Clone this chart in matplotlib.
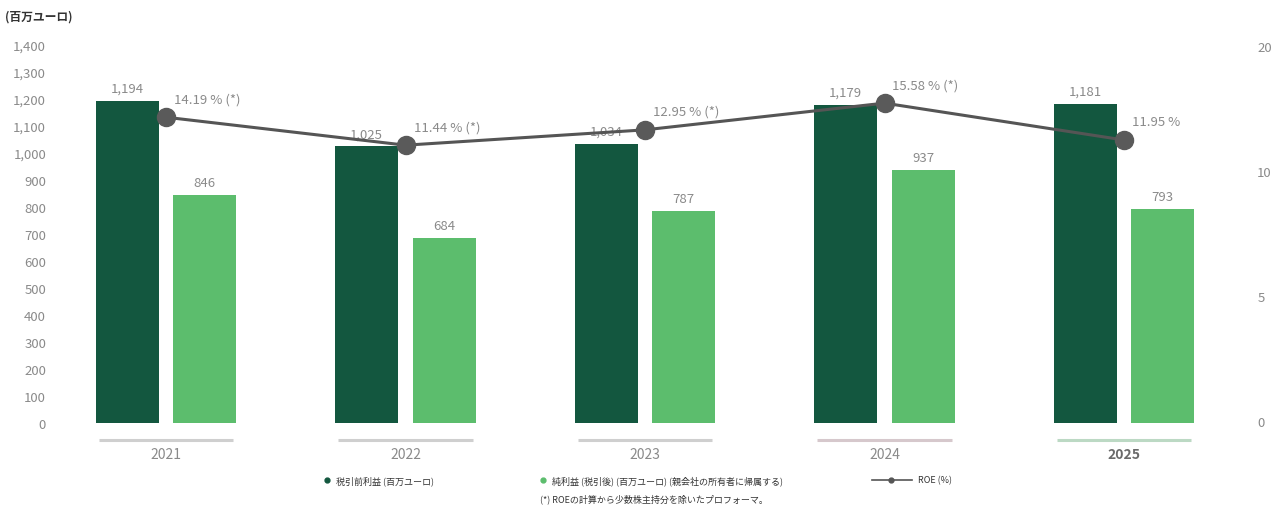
import numpy as np
import matplotlib.pyplot as plt
import matplotlib.transforms as mtransforms
from matplotlib.lines import Line2D

plt.rcParams['font.family'] = ['Noto Sans CJK JP', 'DejaVu Sans']

# データ
years = ['2021', '2022', '2023', '2024', '2025']
pretax_profit = [1194, 1025, 1034, 1179, 1181]      # 税引前利益 (百万ユーロ)
net_profit = [846, 684, 787, 937, 793]               # 純利益 (税引後)
roe = [14.19, 11.44, 12.95, 15.58, 11.95]            # ROE (%)
roe_notes = [' (*)', ' (*)', ' (*)', ' (*)', '']
left_ticks = list(range(0, 1401, 100))
right_tick_labels = ['0', '5', '10', '20']
legend_labels = ['税引前利益 (百万ユーロ)',
                 '純利益 (税引後) (百万ユーロ) (親会社の所有者に帰属する)',
                 'ROE (%)']
footnote = '(*) ROEの計算から少数株主持分を除いたプロフォーマ。'

dark_green = '#13573f'
light_green = '#5cbd6d'
line_gray = '#555555'
text_gray = '#8a8a8a'
underline_colors = ['#cfcfcf', '#cfcfcf', '#cfcfcf', '#d6c8cc', '#bcd9c4']

W, H = 1277, 506
fig = plt.figure(figsize=(W / 100, H / 100), dpi=100)

# 軸の位置 (ピクセル基準)
ax_l, ax_r, ax_b, ax_t = 60, 1235, 424, 46
ax = fig.add_axes([ax_l / W, 1 - ax_b / H, (ax_r - ax_l) / W, (ax_b - ax_t) / H])

x = np.arange(len(years))
bar_w = 0.263
off = 0.162
step = 239.5
ax.set_xlim((ax_l - 166) / step, (ax_r - 166) / step)
ax.set_ylim(0, 1400)

bars1 = ax.bar(x - off, pretax_profit, width=bar_w, color=dark_green, zorder=2)
bars2 = ax.bar(x + off, net_profit, width=bar_w, color=light_green, zorder=2)

for rect, v in zip(bars1, pretax_profit):
    ax.annotate(f'{v:,}', (rect.get_x() + rect.get_width() / 2, v),
                xytext=(0, 6), textcoords='offset pixels', ha='center', va='bottom',
                fontsize=9.5, color=text_gray)
for rect, v in zip(bars2, net_profit):
    ax.annotate(f'{v:,}', (rect.get_x() + rect.get_width() / 2, v),
                xytext=(0, 6), textcoords='offset pixels', ha='center', va='bottom',
                fontsize=9.5, color=text_gray)

ax.set_yticks(left_ticks)
ax.set_yticklabels([f'{t:,}' for t in left_ticks], fontsize=9.5, color=text_gray)
ax.tick_params(axis='y', length=0, pad=10)

# 年ラベルと下線
ax.set_xticks(x)
ax.set_xticklabels(years, fontsize=10, color=text_gray)
ax.tick_params(axis='x', length=0, pad=17)
lbl = ax.get_xticklabels()[-1]
lbl.set_fontweight('bold')
lbl.set_color('#6a6a6a')

trans = mtransforms.blended_transform_factory(ax.transData, ax.transAxes)
for xi, c in zip(x, underline_colors):
    ax.plot([xi - 0.28, xi + 0.28], [-0.045, -0.045], transform=trans,
            color=c, lw=2.2, clip_on=False, solid_capstyle='butt')

for s in ax.spines.values():
    s.set_visible(False)

# ROE (右軸)
ax2 = ax.twinx()
ax2.set_ylim(-15.9, 21.3)
ax2.plot(x, roe, color=line_gray, lw=2.2, marker='o', markersize=13,
         markerfacecolor='#5a5a5a', markeredgecolor='#5a5a5a', zorder=3)
for xi, v, n in zip(x, roe, roe_notes):
    ax2.annotate(f'{v:.2f} %{n}', (xi, v), xytext=(8, 12), textcoords='offset pixels',
                 ha='left', va='bottom', fontsize=9.5, color=text_gray)
lo, hi = ax2.get_ylim()
ax2.set_yticks(np.linspace(lo + 0.15, hi - 0.1, 4))
ax2.set_yticklabels(right_tick_labels, fontsize=9.5, color=text_gray)
ax2.tick_params(axis='y', length=0, pad=16)
for s in ax2.spines.values():
    s.set_visible(False)

fig.text(5 / W, 1 - 17 / H, '(百万ユーロ)', fontsize=8.5, fontweight='bold',
         color='#333333', va='center', ha='left')

# 凡例
ly = 1 - 481 / H
fig.add_artist(Line2D([327 / W], [ly], marker='o', markersize=3.5, color=dark_green,
                      linestyle='none'))
fig.text(336 / W, ly, legend_labels[0], fontsize=6.5, color='#333333', va='center')
fig.add_artist(Line2D([543 / W], [ly], marker='o', markersize=3.5, color=light_green,
                      linestyle='none'))
fig.text(552 / W, ly, legend_labels[1], fontsize=6.5, color='#333333', va='center')
fig.add_artist(Line2D([872 / W, 912 / W], [ly, ly], color=line_gray, lw=1.2))
fig.add_artist(Line2D([891 / W], [ly], marker='o', markersize=3.5, color=line_gray,
                      linestyle='none'))
fig.text(918 / W, ly, legend_labels[2], fontsize=6.5, color='#333333', va='center')
fig.text(540 / W, 1 - 499 / H, footnote, fontsize=6.5, color='#333333', va='center')

fig.savefig('out.png', dpi=100)
